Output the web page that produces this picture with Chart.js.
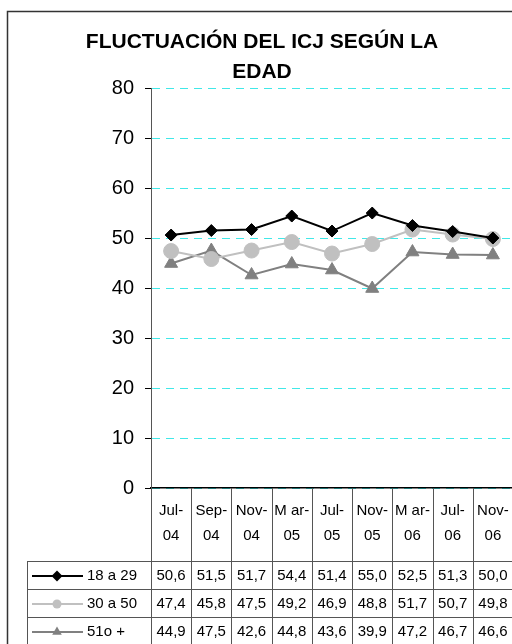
<!DOCTYPE html>
<html>
<head>
<meta charset="utf-8">
<script src="https://cdn.jsdelivr.net/npm/chart.js@4.4.1/dist/chart.umd.min.js"></script>
<style>
  html, body { margin: 0; padding: 0; background: #fff; overflow: hidden; }
  #chart { display: block; }
</style>
</head>
<body>
<canvas id="chart" width="530" height="644"></canvas>
<script>
const months = [['Jul-', '04'], ['Sep-', '04'], ['Nov-', '04'], ['M ar-', '05'], ['Jul-', '05'],
                ['Nov-', '05'], ['M ar-', '06'], ['Jul-', '06'], ['Nov-', '06']];
const age18to29 = [50.6, 51.5, 51.7, 54.4, 51.4, 55.0, 52.5, 51.3, 50.0];
const age30to50 = [47.4, 45.8, 47.5, 49.2, 46.9, 48.8, 51.7, 50.7, 49.8];
const age51plus = [44.9, 47.5, 42.6, 44.8, 43.6, 39.9, 47.2, 46.7, 46.6];
const seriesNames = ['18 a 29', '30 a 50', '51o +'];
const yTicks = [0, 10, 20, 30, 40, 50, 60, 70, 80];

const FONT = '"Liberation Sans", Arial, sans-serif';
const rowLines = [561, 589, 617];   // lineas de la tabla (y)
const tableLeft = 27;

function drawMarker(ctx, style, r, x, y) {
    ctx.beginPath();
    if (style === 'rectRot') {
        ctx.moveTo(x, y - r); ctx.lineTo(x + r, y); ctx.lineTo(x, y + r); ctx.lineTo(x - r, y);
    } else if (style === 'triangle') {
        ctx.moveTo(x, y - r); ctx.lineTo(x + r * 0.87, y + r * 0.5); ctx.lineTo(x - r * 0.87, y + r * 0.5);
    } else {
        ctx.arc(x, y, r, 0, Math.PI * 2);
    }
    ctx.closePath();
    ctx.fill();
}

const tablePlugin = {
    id: 'dataTable',
    beforeDraw(chart) {
        const ctx = chart.ctx;
        ctx.save();
        ctx.strokeStyle = '#333';
        ctx.lineWidth = 1.5;
        ctx.strokeRect(7.5, 11.5, 600, 700);
        ctx.restore();
    },
    afterDraw(chart) {
        const { ctx, scales: { x }, chartArea: area } = chart;
        const half = (x.getPixelForValue(1) - x.getPixelForValue(0)) / 2;
        const bottom = chart.height;
        ctx.save();
        ctx.strokeStyle = '#555';
        ctx.lineWidth = 1;

        // lineas verticales de columnas
        ctx.beginPath();
        ctx.moveTo(Math.round(area.left) + 0.5, area.bottom);
        ctx.lineTo(Math.round(area.left) + 0.5, bottom);
        months.forEach((m, i) => {
            const px = Math.round(x.getPixelForValue(i) + half) + 0.5;
            ctx.moveTo(px, area.bottom);
            ctx.lineTo(px, bottom);
        });
        // borde izquierdo de la leyenda
        ctx.moveTo(tableLeft + 0.5, rowLines[0]);
        ctx.lineTo(tableLeft + 0.5, bottom);
        rowLines.forEach(y => {
            ctx.moveTo(tableLeft, y + 0.5);
            ctx.lineTo(chart.width, y + 0.5);
        });
        ctx.stroke();

        // etiquetas de categoria
        ctx.fillStyle = '#000';
        ctx.textAlign = 'center';
        ctx.textBaseline = 'middle';
        ctx.font = '15px ' + FONT;
        months.forEach((m, i) => {
            const px = x.getPixelForValue(i);
            ctx.fillText(m[0], px, 511);
            ctx.fillText(m[1], px, 536);
        });

        // valores
        chart.data.datasets.forEach((ds, d) => {
            const cy = (rowLines[d] + (rowLines[d + 1] || rowLines[d] + 28)) / 2 + 1;
            ds.data.forEach((v, i) => {
                ctx.fillStyle = '#000';
                ctx.textAlign = 'center';
                ctx.fillText(v.toFixed(1).replace('.', ','), x.getPixelForValue(i), cy);
            });
            // clave de leyenda
            ctx.strokeStyle = ds.borderColor;
            ctx.lineWidth = 2;
            ctx.beginPath();
            ctx.moveTo(32, cy);
            ctx.lineTo(83, cy);
            ctx.stroke();
            ctx.fillStyle = ds.pointBackgroundColor;
            drawMarker(ctx, ds.pointStyle, ds.pointStyle === 'circle' ? 4.5 : 5.5, 57, cy);
            ctx.fillStyle = '#000';
            ctx.textAlign = 'left';
            ctx.fillText(seriesNames[d], 87, cy);
        });
        ctx.restore();
    }
};

const ctx = document.getElementById('chart');
new Chart(ctx, {
    type: 'line',
    data: {
        labels: months.map(m => m.join('')),
        datasets: [
            { label: seriesNames[0], data: age18to29, borderColor: '#000', pointBackgroundColor: '#000',
              pointBorderColor: '#000', pointStyle: 'rectRot', pointRadius: 6, pointBorderWidth: 1, borderWidth: 2 },
            { label: seriesNames[1], data: age30to50, borderColor: '#c0c0c0', pointBackgroundColor: '#c0c0c0',
              pointBorderColor: '#c0c0c0', pointStyle: 'circle', pointRadius: 7.5, pointBorderWidth: 1, borderWidth: 2 },
            { label: seriesNames[2], data: age51plus, borderColor: '#808080', pointBackgroundColor: '#808080',
              pointBorderColor: '#808080', pointStyle: 'triangle', pointRadius: 7.5, pointBorderWidth: 1, borderWidth: 2 }
        ]
    },
    options: {
        responsive: false,
        animation: false,
        devicePixelRatio: 1,
        layout: { padding: { left: 11, right: 17, top: 0, bottom: 0 } },
        plugins: {
            legend: { display: false },
            tooltip: { enabled: false },
            title: {
                display: true,
                text: ['FLUCTUACIÓN DEL ICJ SEGÚN LA', 'EDAD'],
                color: '#000',
                font: { family: FONT, size: 21, weight: 'bold', lineHeight: 1.43 },
                padding: { top: 27, bottom: 1 }
            }
        },
        scales: {
            x: {
                offset: true,
                grid: { display: false },
                border: { display: true, color: '#000', width: 1.5 },
                ticks: { display: false },
                afterFit: s => { s.height = 644 - 488; }
            },
            y: {
                min: 0, max: 80,
                afterBuildTicks: s => { s.ticks = yTicks.map(v => ({ value: v })); },
                afterFit: s => { s.width = 140; },
                grid: { color: '#40e8e8', tickColor: '#000', tickLength: 6, tickBorderDash: [], lineWidth: 1 },
                border: { display: true, color: '#555', width: 1, dash: [8, 6] },
                ticks: { color: '#000', font: { family: FONT, size: 20 }, padding: 11 }
            }
        }
    },
    plugins: [tablePlugin]
});
</script>
</body>
</html>
